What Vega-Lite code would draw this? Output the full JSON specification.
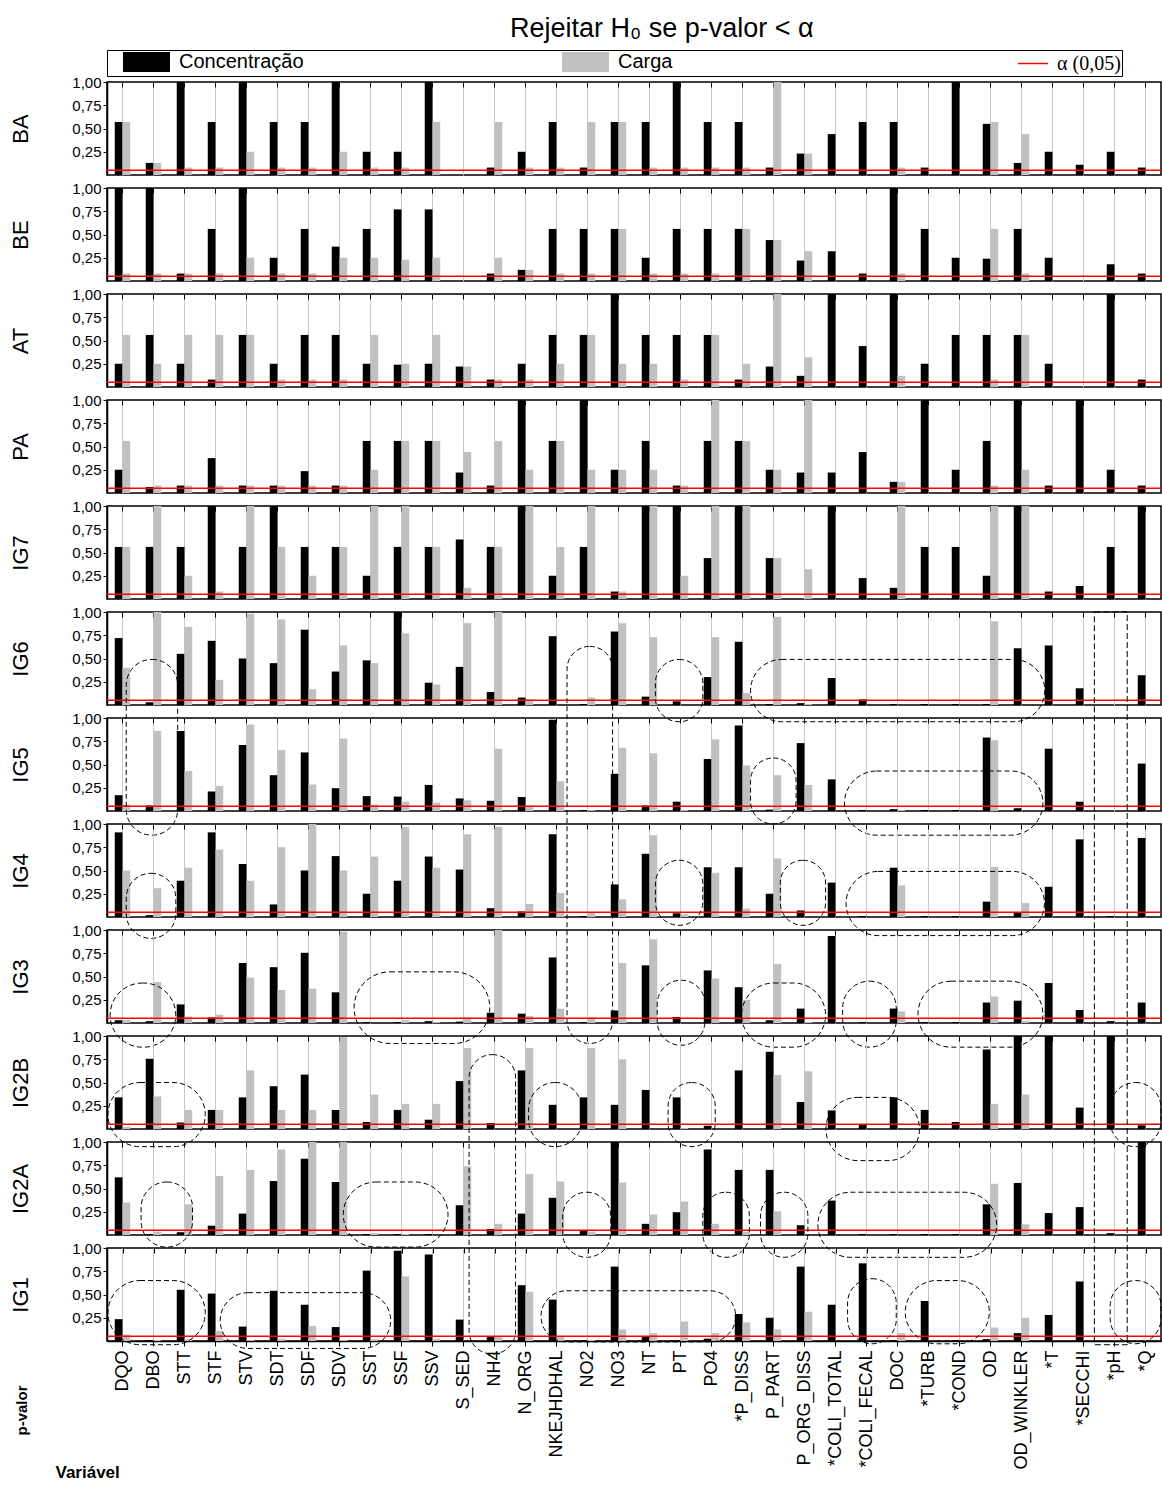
{
"$schema": "https://vega.github.io/schema/vega-lite/v6.json",
"padding": {"left": 9, "top": 14, "right": 0, "bottom": 2},
"background": "white",
"bounds": "flush",
"title": {"text": "Rejeitar H₀ se p-valor < α", "font": "Liberation Sans", "fontSize": 27, "fontWeight": "normal", "color": "#000", "anchor": "middle", "offset": 7, "dx": 76},
"data": {"values": [
{"painel":"BA","variavel":"DQO","Concentração":0.57,"Carga":0.57},
{"painel":"BA","variavel":"DBO","Concentração":0.13,"Carga":0.13},
{"painel":"BA","variavel":"STT","Concentração":1,"Carga":0.08},
{"painel":"BA","variavel":"STF","Concentração":0.57,"Carga":0.08},
{"painel":"BA","variavel":"STV","Concentração":1,"Carga":0.25},
{"painel":"BA","variavel":"SDT","Concentração":0.57,"Carga":0.08},
{"painel":"BA","variavel":"SDF","Concentração":0.57,"Carga":0.08},
{"painel":"BA","variavel":"SDV","Concentração":1,"Carga":0.25},
{"painel":"BA","variavel":"SST","Concentração":0.25,"Carga":0.08},
{"painel":"BA","variavel":"SSF","Concentração":0.25,"Carga":0.08},
{"painel":"BA","variavel":"SSV","Concentração":1,"Carga":0.57},
{"painel":"BA","variavel":"S_SED","Concentração":0,"Carga":0},
{"painel":"BA","variavel":"NH4","Concentração":0.08,"Carga":0.57},
{"painel":"BA","variavel":"N_ORG","Concentração":0.25,"Carga":0.08},
{"painel":"BA","variavel":"NKEJHDHAL","Concentração":0.57,"Carga":0.08},
{"painel":"BA","variavel":"NO2","Concentração":0.08,"Carga":0.57},
{"painel":"BA","variavel":"NO3","Concentração":0.57,"Carga":0.57},
{"painel":"BA","variavel":"NT","Concentração":0.57,"Carga":0.08},
{"painel":"BA","variavel":"PT","Concentração":1,"Carga":0.08},
{"painel":"BA","variavel":"PO4","Concentração":0.57,"Carga":0.08},
{"painel":"BA","variavel":"*P_DISS","Concentração":0.57,"Carga":0.08},
{"painel":"BA","variavel":"P_PART","Concentração":0.08,"Carga":1},
{"painel":"BA","variavel":"P_ORG_DISS","Concentração":0.23,"Carga":0.23},
{"painel":"BA","variavel":"*COLI_TOTAL","Concentração":0.44,"Carga":0},
{"painel":"BA","variavel":"*COLI_FECAL","Concentração":0.57,"Carga":0},
{"painel":"BA","variavel":"DOC","Concentração":0.57,"Carga":0.08},
{"painel":"BA","variavel":"*TURB","Concentração":0.08,"Carga":0},
{"painel":"BA","variavel":"*COND","Concentração":1,"Carga":0},
{"painel":"BA","variavel":"OD","Concentração":0.55,"Carga":0.57},
{"painel":"BA","variavel":"OD_WINKLER","Concentração":0.13,"Carga":0.44},
{"painel":"BA","variavel":"*T","Concentração":0.25,"Carga":0},
{"painel":"BA","variavel":"*SECCHI","Concentração":0.11,"Carga":0},
{"painel":"BA","variavel":"*pH","Concentração":0.25,"Carga":0},
{"painel":"BA","variavel":"*Q","Concentração":0.08,"Carga":0},
{"painel":"BE","variavel":"DQO","Concentração":1,"Carga":0.08},
{"painel":"BE","variavel":"DBO","Concentração":1,"Carga":0.08},
{"painel":"BE","variavel":"STT","Concentração":0.08,"Carga":0.08},
{"painel":"BE","variavel":"STF","Concentração":0.56,"Carga":0.08},
{"painel":"BE","variavel":"STV","Concentração":1,"Carga":0.25},
{"painel":"BE","variavel":"SDT","Concentração":0.25,"Carga":0.08},
{"painel":"BE","variavel":"SDF","Concentração":0.56,"Carga":0.08},
{"painel":"BE","variavel":"SDV","Concentração":0.37,"Carga":0.25},
{"painel":"BE","variavel":"SST","Concentração":0.56,"Carga":0.25},
{"painel":"BE","variavel":"SSF","Concentração":0.77,"Carga":0.23},
{"painel":"BE","variavel":"SSV","Concentração":0.77,"Carga":0.25},
{"painel":"BE","variavel":"S_SED","Concentração":0,"Carga":0},
{"painel":"BE","variavel":"NH4","Concentração":0.08,"Carga":0.25},
{"painel":"BE","variavel":"N_ORG","Concentração":0.12,"Carga":0.12},
{"painel":"BE","variavel":"NKEJHDHAL","Concentração":0.56,"Carga":0.08},
{"painel":"BE","variavel":"NO2","Concentração":0.56,"Carga":0.08},
{"painel":"BE","variavel":"NO3","Concentração":0.56,"Carga":0.56},
{"painel":"BE","variavel":"NT","Concentração":0.25,"Carga":0.08},
{"painel":"BE","variavel":"PT","Concentração":0.56,"Carga":0.08},
{"painel":"BE","variavel":"PO4","Concentração":0.56,"Carga":0.08},
{"painel":"BE","variavel":"*P_DISS","Concentração":0.56,"Carga":0.56},
{"painel":"BE","variavel":"P_PART","Concentração":0.44,"Carga":0.44},
{"painel":"BE","variavel":"P_ORG_DISS","Concentração":0.22,"Carga":0.32},
{"painel":"BE","variavel":"*COLI_TOTAL","Concentração":0.32,"Carga":0},
{"painel":"BE","variavel":"*COLI_FECAL","Concentração":0.08,"Carga":0},
{"painel":"BE","variavel":"DOC","Concentração":1,"Carga":0.08},
{"painel":"BE","variavel":"*TURB","Concentração":0.56,"Carga":0},
{"painel":"BE","variavel":"*COND","Concentração":0.25,"Carga":0},
{"painel":"BE","variavel":"OD","Concentração":0.24,"Carga":0.56},
{"painel":"BE","variavel":"OD_WINKLER","Concentração":0.56,"Carga":0.08},
{"painel":"BE","variavel":"*T","Concentração":0.25,"Carga":0},
{"painel":"BE","variavel":"*SECCHI","Concentração":0,"Carga":0},
{"painel":"BE","variavel":"*pH","Concentração":0.18,"Carga":0},
{"painel":"BE","variavel":"*Q","Concentração":0.08,"Carga":0},
{"painel":"AT","variavel":"DQO","Concentração":0.25,"Carga":0.56},
{"painel":"AT","variavel":"DBO","Concentração":0.56,"Carga":0.25},
{"painel":"AT","variavel":"STT","Concentração":0.25,"Carga":0.56},
{"painel":"AT","variavel":"STF","Concentração":0.08,"Carga":0.56},
{"painel":"AT","variavel":"STV","Concentração":0.56,"Carga":0.56},
{"painel":"AT","variavel":"SDT","Concentração":0.25,"Carga":0.08},
{"painel":"AT","variavel":"SDF","Concentração":0.56,"Carga":0.08},
{"painel":"AT","variavel":"SDV","Concentração":0.56,"Carga":0.08},
{"painel":"AT","variavel":"SST","Concentração":0.25,"Carga":0.56},
{"painel":"AT","variavel":"SSF","Concentração":0.24,"Carga":0.25},
{"painel":"AT","variavel":"SSV","Concentração":0.25,"Carga":0.56},
{"painel":"AT","variavel":"S_SED","Concentração":0.22,"Carga":0.22},
{"painel":"AT","variavel":"NH4","Concentração":0.08,"Carga":0.08},
{"painel":"AT","variavel":"N_ORG","Concentração":0.25,"Carga":0.08},
{"painel":"AT","variavel":"NKEJHDHAL","Concentração":0.56,"Carga":0.25},
{"painel":"AT","variavel":"NO2","Concentração":0.56,"Carga":0.56},
{"painel":"AT","variavel":"NO3","Concentração":1,"Carga":0.25},
{"painel":"AT","variavel":"NT","Concentração":0.56,"Carga":0.25},
{"painel":"AT","variavel":"PT","Concentração":0.56,"Carga":0.08},
{"painel":"AT","variavel":"PO4","Concentração":0.56,"Carga":0.56},
{"painel":"AT","variavel":"*P_DISS","Concentração":0.08,"Carga":0.25},
{"painel":"AT","variavel":"P_PART","Concentração":0.22,"Carga":1},
{"painel":"AT","variavel":"P_ORG_DISS","Concentração":0.12,"Carga":0.32},
{"painel":"AT","variavel":"*COLI_TOTAL","Concentração":1,"Carga":0},
{"painel":"AT","variavel":"*COLI_FECAL","Concentração":0.44,"Carga":0},
{"painel":"AT","variavel":"DOC","Concentração":1,"Carga":0.12},
{"painel":"AT","variavel":"*TURB","Concentração":0.25,"Carga":0},
{"painel":"AT","variavel":"*COND","Concentração":0.56,"Carga":0},
{"painel":"AT","variavel":"OD","Concentração":0.56,"Carga":0.08},
{"painel":"AT","variavel":"OD_WINKLER","Concentração":0.56,"Carga":0.56},
{"painel":"AT","variavel":"*T","Concentração":0.25,"Carga":0},
{"painel":"AT","variavel":"*SECCHI","Concentração":0,"Carga":0},
{"painel":"AT","variavel":"*pH","Concentração":1,"Carga":0},
{"painel":"AT","variavel":"*Q","Concentração":0.08,"Carga":0},
{"painel":"PA","variavel":"DQO","Concentração":0.25,"Carga":0.56},
{"painel":"PA","variavel":"DBO","Concentração":0.065,"Carga":0.08},
{"painel":"PA","variavel":"STT","Concentração":0.08,"Carga":0.08},
{"painel":"PA","variavel":"STF","Concentração":0.375,"Carga":0.08},
{"painel":"PA","variavel":"STV","Concentração":0.08,"Carga":0.08},
{"painel":"PA","variavel":"SDT","Concentração":0.08,"Carga":0.08},
{"painel":"PA","variavel":"SDF","Concentração":0.235,"Carga":0.08},
{"painel":"PA","variavel":"SDV","Concentração":0.08,"Carga":0.08},
{"painel":"PA","variavel":"SST","Concentração":0.56,"Carga":0.25},
{"painel":"PA","variavel":"SSF","Concentração":0.56,"Carga":0.56},
{"painel":"PA","variavel":"SSV","Concentração":0.56,"Carga":0.56},
{"painel":"PA","variavel":"S_SED","Concentração":0.22,"Carga":0.44},
{"painel":"PA","variavel":"NH4","Concentração":0.08,"Carga":0.56},
{"painel":"PA","variavel":"N_ORG","Concentração":1,"Carga":0.25},
{"painel":"PA","variavel":"NKEJHDHAL","Concentração":0.56,"Carga":0.56},
{"painel":"PA","variavel":"NO2","Concentração":1,"Carga":0.25},
{"painel":"PA","variavel":"NO3","Concentração":0.25,"Carga":0.25},
{"painel":"PA","variavel":"NT","Concentração":0.56,"Carga":0.25},
{"painel":"PA","variavel":"PT","Concentração":0.08,"Carga":0.08},
{"painel":"PA","variavel":"PO4","Concentração":0.56,"Carga":1},
{"painel":"PA","variavel":"*P_DISS","Concentração":0.56,"Carga":0.56},
{"painel":"PA","variavel":"P_PART","Concentração":0.25,"Carga":0.25},
{"painel":"PA","variavel":"P_ORG_DISS","Concentração":0.22,"Carga":1},
{"painel":"PA","variavel":"*COLI_TOTAL","Concentração":0.22,"Carga":0},
{"painel":"PA","variavel":"*COLI_FECAL","Concentração":0.44,"Carga":0},
{"painel":"PA","variavel":"DOC","Concentração":0.12,"Carga":0.12},
{"painel":"PA","variavel":"*TURB","Concentração":1,"Carga":0},
{"painel":"PA","variavel":"*COND","Concentração":0.25,"Carga":0},
{"painel":"PA","variavel":"OD","Concentração":0.56,"Carga":0.08},
{"painel":"PA","variavel":"OD_WINKLER","Concentração":1,"Carga":0.25},
{"painel":"PA","variavel":"*T","Concentração":0.08,"Carga":0},
{"painel":"PA","variavel":"*SECCHI","Concentração":1,"Carga":0},
{"painel":"PA","variavel":"*pH","Concentração":0.25,"Carga":0},
{"painel":"PA","variavel":"*Q","Concentração":0.08,"Carga":0},
{"painel":"IG7","variavel":"DQO","Concentração":0.56,"Carga":0.56},
{"painel":"IG7","variavel":"DBO","Concentração":0.56,"Carga":1},
{"painel":"IG7","variavel":"STT","Concentração":0.56,"Carga":0.25},
{"painel":"IG7","variavel":"STF","Concentração":1,"Carga":0.08},
{"painel":"IG7","variavel":"STV","Concentração":0.56,"Carga":1},
{"painel":"IG7","variavel":"SDT","Concentração":1,"Carga":0.56},
{"painel":"IG7","variavel":"SDF","Concentração":0.56,"Carga":0.25},
{"painel":"IG7","variavel":"SDV","Concentração":0.56,"Carga":0.56},
{"painel":"IG7","variavel":"SST","Concentração":0.25,"Carga":1},
{"painel":"IG7","variavel":"SSF","Concentração":0.56,"Carga":1},
{"painel":"IG7","variavel":"SSV","Concentração":0.56,"Carga":0.56},
{"painel":"IG7","variavel":"S_SED","Concentração":0.64,"Carga":0.12},
{"painel":"IG7","variavel":"NH4","Concentração":0.56,"Carga":0.56},
{"painel":"IG7","variavel":"N_ORG","Concentração":1,"Carga":1},
{"painel":"IG7","variavel":"NKEJHDHAL","Concentração":0.25,"Carga":0.56},
{"painel":"IG7","variavel":"NO2","Concentração":0.56,"Carga":1},
{"painel":"IG7","variavel":"NO3","Concentração":0.08,"Carga":0.08},
{"painel":"IG7","variavel":"NT","Concentração":1,"Carga":1},
{"painel":"IG7","variavel":"PT","Concentração":1,"Carga":0.25},
{"painel":"IG7","variavel":"PO4","Concentração":0.44,"Carga":1},
{"painel":"IG7","variavel":"*P_DISS","Concentração":1,"Carga":1},
{"painel":"IG7","variavel":"P_PART","Concentração":0.44,"Carga":0.44},
{"painel":"IG7","variavel":"P_ORG_DISS","Concentração":0,"Carga":0.32},
{"painel":"IG7","variavel":"*COLI_TOTAL","Concentração":1,"Carga":0},
{"painel":"IG7","variavel":"*COLI_FECAL","Concentração":0.225,"Carga":0},
{"painel":"IG7","variavel":"DOC","Concentração":0.12,"Carga":1},
{"painel":"IG7","variavel":"*TURB","Concentração":0.56,"Carga":0},
{"painel":"IG7","variavel":"*COND","Concentração":0.56,"Carga":0},
{"painel":"IG7","variavel":"OD","Concentração":0.25,"Carga":1},
{"painel":"IG7","variavel":"OD_WINKLER","Concentração":1,"Carga":1},
{"painel":"IG7","variavel":"*T","Concentração":0.08,"Carga":0},
{"painel":"IG7","variavel":"*SECCHI","Concentração":0.14,"Carga":0},
{"painel":"IG7","variavel":"*pH","Concentração":0.56,"Carga":0},
{"painel":"IG7","variavel":"*Q","Concentração":1,"Carga":0},
{"painel":"IG6","variavel":"DQO","Concentração":0.72,"Carga":0.40},
{"painel":"IG6","variavel":"DBO","Concentração":0.03,"Carga":1},
{"painel":"IG6","variavel":"STT","Concentração":0.55,"Carga":0.84},
{"painel":"IG6","variavel":"STF","Concentração":0.69,"Carga":0.27},
{"painel":"IG6","variavel":"STV","Concentração":0.50,"Carga":0.98},
{"painel":"IG6","variavel":"SDT","Concentração":0.45,"Carga":0.92},
{"painel":"IG6","variavel":"SDF","Concentração":0.81,"Carga":0.17},
{"painel":"IG6","variavel":"SDV","Concentração":0.36,"Carga":0.64},
{"painel":"IG6","variavel":"SST","Concentração":0.48,"Carga":0.45},
{"painel":"IG6","variavel":"SSF","Concentração":1,"Carga":0.77},
{"painel":"IG6","variavel":"SSV","Concentração":0.24,"Carga":0.22},
{"painel":"IG6","variavel":"S_SED","Concentração":0.41,"Carga":0.88},
{"painel":"IG6","variavel":"NH4","Concentração":0.14,"Carga":1},
{"painel":"IG6","variavel":"N_ORG","Concentração":0.08,"Carga":0.06},
{"painel":"IG6","variavel":"NKEJHDHAL","Concentração":0.74,"Carga":0},
{"painel":"IG6","variavel":"NO2","Concentração":0.01,"Carga":0.08},
{"painel":"IG6","variavel":"NO3","Concentração":0.79,"Carga":0.88},
{"painel":"IG6","variavel":"NT","Concentração":0.09,"Carga":0.73},
{"painel":"IG6","variavel":"PT","Concentração":0.04,"Carga":0},
{"painel":"IG6","variavel":"PO4","Concentração":0.30,"Carga":0.73},
{"painel":"IG6","variavel":"*P_DISS","Concentração":0.68,"Carga":0.13},
{"painel":"IG6","variavel":"P_PART","Concentração":0.01,"Carga":0.95},
{"painel":"IG6","variavel":"P_ORG_DISS","Concentração":0.02,"Carga":0.01},
{"painel":"IG6","variavel":"*COLI_TOTAL","Concentração":0.29,"Carga":0},
{"painel":"IG6","variavel":"*COLI_FECAL","Concentração":0.06,"Carga":0},
{"painel":"IG6","variavel":"DOC","Concentração":0.01,"Carga":0},
{"painel":"IG6","variavel":"*TURB","Concentração":0.01,"Carga":0},
{"painel":"IG6","variavel":"*COND","Concentração":0.01,"Carga":0},
{"painel":"IG6","variavel":"OD","Concentração":0.01,"Carga":0.90},
{"painel":"IG6","variavel":"OD_WINKLER","Concentração":0.61,"Carga":0},
{"painel":"IG6","variavel":"*T","Concentração":0.64,"Carga":0},
{"painel":"IG6","variavel":"*SECCHI","Concentração":0.18,"Carga":0},
{"painel":"IG6","variavel":"*pH","Concentração":0,"Carga":0},
{"painel":"IG6","variavel":"*Q","Concentração":0.32,"Carga":0},
{"painel":"IG5","variavel":"DQO","Concentração":0.17,"Carga":0.07},
{"painel":"IG5","variavel":"DBO","Concentração":0.06,"Carga":0.86},
{"painel":"IG5","variavel":"STT","Concentração":0.86,"Carga":0.43},
{"painel":"IG5","variavel":"STF","Concentração":0.21,"Carga":0.27},
{"painel":"IG5","variavel":"STV","Concentração":0.71,"Carga":0.93},
{"painel":"IG5","variavel":"SDT","Concentração":0.385,"Carga":0.655},
{"painel":"IG5","variavel":"SDF","Concentração":0.63,"Carga":0.285},
{"painel":"IG5","variavel":"SDV","Concentração":0.245,"Carga":0.78},
{"painel":"IG5","variavel":"SST","Concentração":0.16,"Carga":0.07},
{"painel":"IG5","variavel":"SSF","Concentração":0.155,"Carga":0.10},
{"painel":"IG5","variavel":"SSV","Concentração":0.28,"Carga":0.09},
{"painel":"IG5","variavel":"S_SED","Concentração":0.135,"Carga":0.115},
{"painel":"IG5","variavel":"NH4","Concentração":0.11,"Carga":0.67},
{"painel":"IG5","variavel":"N_ORG","Concentração":0.15,"Carga":0.06},
{"painel":"IG5","variavel":"NKEJHDHAL","Concentração":0.98,"Carga":0.32},
{"painel":"IG5","variavel":"NO2","Concentração":0.01,"Carga":0.01},
{"painel":"IG5","variavel":"NO3","Concentração":0.40,"Carga":0.68},
{"painel":"IG5","variavel":"NT","Concentração":0.06,"Carga":0.62},
{"painel":"IG5","variavel":"PT","Concentração":0.10,"Carga":0.01},
{"painel":"IG5","variavel":"PO4","Concentração":0.56,"Carga":0.77},
{"painel":"IG5","variavel":"*P_DISS","Concentração":0.92,"Carga":0.49},
{"painel":"IG5","variavel":"P_PART","Concentração":0.015,"Carga":0.385},
{"painel":"IG5","variavel":"P_ORG_DISS","Concentração":0.73,"Carga":0.28},
{"painel":"IG5","variavel":"*COLI_TOTAL","Concentração":0.34,"Carga":0},
{"painel":"IG5","variavel":"*COLI_FECAL","Concentração":0.01,"Carga":0},
{"painel":"IG5","variavel":"DOC","Concentração":0.02,"Carga":0.01},
{"painel":"IG5","variavel":"*TURB","Concentração":0.01,"Carga":0},
{"painel":"IG5","variavel":"*COND","Concentração":0.01,"Carga":0},
{"painel":"IG5","variavel":"OD","Concentração":0.79,"Carga":0.76},
{"painel":"IG5","variavel":"OD_WINKLER","Concentração":0.03,"Carga":0},
{"painel":"IG5","variavel":"*T","Concentração":0.67,"Carga":0},
{"painel":"IG5","variavel":"*SECCHI","Concentração":0.10,"Carga":0},
{"painel":"IG5","variavel":"*pH","Concentração":0,"Carga":0},
{"painel":"IG5","variavel":"*Q","Concentração":0.51,"Carga":0},
{"painel":"IG4","variavel":"DQO","Concentração":0.91,"Carga":0.50},
{"painel":"IG4","variavel":"DBO","Concentração":0.02,"Carga":0.31},
{"painel":"IG4","variavel":"STT","Concentração":0.39,"Carga":0.53},
{"painel":"IG4","variavel":"STF","Concentração":0.91,"Carga":0.725},
{"painel":"IG4","variavel":"STV","Concentração":0.57,"Carga":0.39},
{"painel":"IG4","variavel":"SDT","Concentração":0.135,"Carga":0.75},
{"painel":"IG4","variavel":"SDF","Concentração":0.50,"Carga":1},
{"painel":"IG4","variavel":"SDV","Concentração":0.655,"Carga":0.50},
{"painel":"IG4","variavel":"SST","Concentração":0.25,"Carga":0.65},
{"painel":"IG4","variavel":"SSF","Concentração":0.39,"Carga":0.97},
{"painel":"IG4","variavel":"SSV","Concentração":0.65,"Carga":0.53},
{"painel":"IG4","variavel":"S_SED","Concentração":0.51,"Carga":0.89},
{"painel":"IG4","variavel":"NH4","Concentração":0.095,"Carga":0.97},
{"painel":"IG4","variavel":"N_ORG","Concentração":0.06,"Carga":0.14},
{"painel":"IG4","variavel":"NKEJHDHAL","Concentração":0.89,"Carga":0.26},
{"painel":"IG4","variavel":"NO2","Concentração":0.01,"Carga":0.05},
{"painel":"IG4","variavel":"NO3","Concentração":0.35,"Carga":0.19},
{"painel":"IG4","variavel":"NT","Concentração":0.68,"Carga":0.88},
{"painel":"IG4","variavel":"PT","Concentração":0.04,"Carga":0.03},
{"painel":"IG4","variavel":"PO4","Concentração":0.535,"Carga":0.475},
{"painel":"IG4","variavel":"*P_DISS","Concentração":0.535,"Carga":0.09},
{"painel":"IG4","variavel":"P_PART","Concentração":0.25,"Carga":0.63},
{"painel":"IG4","variavel":"P_ORG_DISS","Concentração":0.07,"Carga":0},
{"painel":"IG4","variavel":"*COLI_TOTAL","Concentração":0.37,"Carga":0},
{"painel":"IG4","variavel":"*COLI_FECAL","Concentração":0.01,"Carga":0},
{"painel":"IG4","variavel":"DOC","Concentração":0.53,"Carga":0.34},
{"painel":"IG4","variavel":"*TURB","Concentração":0.01,"Carga":0},
{"painel":"IG4","variavel":"*COND","Concentração":0.01,"Carga":0},
{"painel":"IG4","variavel":"OD","Concentração":0.165,"Carga":0.54},
{"painel":"IG4","variavel":"OD_WINKLER","Concentração":0.05,"Carga":0.15},
{"painel":"IG4","variavel":"*T","Concentração":0.325,"Carga":0},
{"painel":"IG4","variavel":"*SECCHI","Concentração":0.835,"Carga":0},
{"painel":"IG4","variavel":"*pH","Concentração":0.01,"Carga":0},
{"painel":"IG4","variavel":"*Q","Concentração":0.85,"Carga":0},
{"painel":"IG3","variavel":"DQO","Concentração":0.03,"Carga":0.03},
{"painel":"IG3","variavel":"DBO","Concentração":0.02,"Carga":0.44},
{"painel":"IG3","variavel":"STT","Concentração":0.20,"Carga":0.07},
{"painel":"IG3","variavel":"STF","Concentração":0.06,"Carga":0.09},
{"painel":"IG3","variavel":"STV","Concentração":0.645,"Carga":0.49},
{"painel":"IG3","variavel":"SDT","Concentração":0.60,"Carga":0.355},
{"painel":"IG3","variavel":"SDF","Concentração":0.755,"Carga":0.37},
{"painel":"IG3","variavel":"SDV","Concentração":0.33,"Carga":0.98},
{"painel":"IG3","variavel":"SST","Concentração":0.01,"Carga":0},
{"painel":"IG3","variavel":"SSF","Concentração":0.01,"Carga":0.03},
{"painel":"IG3","variavel":"SSV","Concentração":0.02,"Carga":0.01},
{"painel":"IG3","variavel":"S_SED","Concentração":0.015,"Carga":0.06},
{"painel":"IG3","variavel":"NH4","Concentração":0.11,"Carga":1},
{"painel":"IG3","variavel":"N_ORG","Concentração":0.10,"Carga":0.075},
{"painel":"IG3","variavel":"NKEJHDHAL","Concentração":0.705,"Carga":0.155},
{"painel":"IG3","variavel":"NO2","Concentração":0.01,"Carga":0.06},
{"painel":"IG3","variavel":"NO3","Concentração":0.135,"Carga":0.645},
{"painel":"IG3","variavel":"NT","Concentração":0.62,"Carga":0.90},
{"painel":"IG3","variavel":"PT","Concentração":0.065,"Carga":0},
{"painel":"IG3","variavel":"PO4","Concentração":0.565,"Carga":0.48},
{"painel":"IG3","variavel":"*P_DISS","Concentração":0.385,"Carga":0.25},
{"painel":"IG3","variavel":"P_PART","Concentração":0.03,"Carga":0.635},
{"painel":"IG3","variavel":"P_ORG_DISS","Concentração":0.155,"Carga":0.01},
{"painel":"IG3","variavel":"*COLI_TOTAL","Concentração":0.935,"Carga":0},
{"painel":"IG3","variavel":"*COLI_FECAL","Concentração":0.01,"Carga":0},
{"painel":"IG3","variavel":"DOC","Concentração":0.155,"Carga":0.125},
{"painel":"IG3","variavel":"*TURB","Concentração":0.01,"Carga":0},
{"painel":"IG3","variavel":"*COND","Concentração":0.01,"Carga":0},
{"painel":"IG3","variavel":"OD","Concentração":0.22,"Carga":0.285},
{"painel":"IG3","variavel":"OD_WINKLER","Concentração":0.24,"Carga":0.025},
{"painel":"IG3","variavel":"*T","Concentração":0.43,"Carga":0},
{"painel":"IG3","variavel":"*SECCHI","Concentração":0.14,"Carga":0},
{"painel":"IG3","variavel":"*pH","Concentração":0.02,"Carga":0},
{"painel":"IG3","variavel":"*Q","Concentração":0.22,"Carga":0},
{"painel":"IG2B","variavel":"DQO","Concentração":0.34,"Carga":0.025},
{"painel":"IG2B","variavel":"DBO","Concentração":0.755,"Carga":0.35},
{"painel":"IG2B","variavel":"STT","Concentração":0.07,"Carga":0.205},
{"painel":"IG2B","variavel":"STF","Concentração":0.205,"Carga":0.205},
{"painel":"IG2B","variavel":"STV","Concentração":0.34,"Carga":0.63},
{"painel":"IG2B","variavel":"SDT","Concentração":0.46,"Carga":0.205},
{"painel":"IG2B","variavel":"SDF","Concentração":0.585,"Carga":0.205},
{"painel":"IG2B","variavel":"SDV","Concentração":0.205,"Carga":0.99},
{"painel":"IG2B","variavel":"SST","Concentração":0.075,"Carga":0.37},
{"painel":"IG2B","variavel":"SSF","Concentração":0.205,"Carga":0.27},
{"painel":"IG2B","variavel":"SSV","Concentração":0.10,"Carga":0.27},
{"painel":"IG2B","variavel":"S_SED","Concentração":0.515,"Carga":0.87},
{"painel":"IG2B","variavel":"NH4","Concentração":0.065,"Carga":0},
{"painel":"IG2B","variavel":"N_ORG","Concentração":0.63,"Carga":0.87},
{"painel":"IG2B","variavel":"NKEJHDHAL","Concentração":0.26,"Carga":0},
{"painel":"IG2B","variavel":"NO2","Concentração":0.34,"Carga":0.87},
{"painel":"IG2B","variavel":"NO3","Concentração":0.26,"Carga":0.75},
{"painel":"IG2B","variavel":"NT","Concentração":0.42,"Carga":0},
{"painel":"IG2B","variavel":"PT","Concentração":0.34,"Carga":0.01},
{"painel":"IG2B","variavel":"PO4","Concentração":0.035,"Carga":0},
{"painel":"IG2B","variavel":"*P_DISS","Concentração":0.63,"Carga":0},
{"painel":"IG2B","variavel":"P_PART","Concentração":0.83,"Carga":0.58},
{"painel":"IG2B","variavel":"P_ORG_DISS","Concentração":0.29,"Carga":0.62},
{"painel":"IG2B","variavel":"*COLI_TOTAL","Concentração":0.20,"Carga":0},
{"painel":"IG2B","variavel":"*COLI_FECAL","Concentração":0.05,"Carga":0},
{"painel":"IG2B","variavel":"DOC","Concentração":0.34,"Carga":0},
{"painel":"IG2B","variavel":"*TURB","Concentração":0.205,"Carga":0},
{"painel":"IG2B","variavel":"*COND","Concentração":0.075,"Carga":0},
{"painel":"IG2B","variavel":"OD","Concentração":0.855,"Carga":0.27},
{"painel":"IG2B","variavel":"OD_WINKLER","Concentração":1,"Carga":0.37},
{"painel":"IG2B","variavel":"*T","Concentração":1,"Carga":0},
{"painel":"IG2B","variavel":"*SECCHI","Concentração":0.23,"Carga":0},
{"painel":"IG2B","variavel":"*pH","Concentração":1,"Carga":0},
{"painel":"IG2B","variavel":"*Q","Concentração":0.04,"Carga":0},
{"painel":"IG2A","variavel":"DQO","Concentração":0.62,"Carga":0.35},
{"painel":"IG2A","variavel":"DBO","Concentração":0.01,"Carga":0.035},
{"painel":"IG2A","variavel":"STT","Concentração":0.03,"Carga":0.33},
{"painel":"IG2A","variavel":"STF","Concentração":0.10,"Carga":0.635},
{"painel":"IG2A","variavel":"STV","Concentração":0.23,"Carga":0.70},
{"painel":"IG2A","variavel":"SDT","Concentração":0.58,"Carga":0.92},
{"painel":"IG2A","variavel":"SDF","Concentração":0.82,"Carga":1},
{"painel":"IG2A","variavel":"SDV","Concentração":0.57,"Carga":1},
{"painel":"IG2A","variavel":"SST","Concentração":0.01,"Carga":0.02},
{"painel":"IG2A","variavel":"SSF","Concentração":0.01,"Carga":0.01},
{"painel":"IG2A","variavel":"SSV","Concentração":0.01,"Carga":0},
{"painel":"IG2A","variavel":"S_SED","Concentração":0.32,"Carga":0.74},
{"painel":"IG2A","variavel":"NH4","Concentração":0.065,"Carga":0.12},
{"painel":"IG2A","variavel":"N_ORG","Concentração":0.23,"Carga":0.655},
{"painel":"IG2A","variavel":"NKEJHDHAL","Concentração":0.40,"Carga":0.575},
{"painel":"IG2A","variavel":"NO2","Concentração":0.055,"Carga":0.035},
{"painel":"IG2A","variavel":"NO3","Concentração":1,"Carga":0.565},
{"painel":"IG2A","variavel":"NT","Concentração":0.12,"Carga":0.22},
{"painel":"IG2A","variavel":"PT","Concentração":0.245,"Carga":0.36},
{"painel":"IG2A","variavel":"PO4","Concentração":0.92,"Carga":0.12},
{"painel":"IG2A","variavel":"*P_DISS","Concentração":0.70,"Carga":0.035},
{"painel":"IG2A","variavel":"P_PART","Concentração":0.70,"Carga":0.255},
{"painel":"IG2A","variavel":"P_ORG_DISS","Concentração":0.105,"Carga":0},
{"painel":"IG2A","variavel":"*COLI_TOTAL","Concentração":0.37,"Carga":0},
{"painel":"IG2A","variavel":"*COLI_FECAL","Concentração":0.01,"Carga":0},
{"painel":"IG2A","variavel":"DOC","Concentração":0.01,"Carga":0},
{"painel":"IG2A","variavel":"*TURB","Concentração":0.01,"Carga":0},
{"painel":"IG2A","variavel":"*COND","Concentração":0.01,"Carga":0},
{"painel":"IG2A","variavel":"OD","Concentração":0.33,"Carga":0.55},
{"painel":"IG2A","variavel":"OD_WINKLER","Concentração":0.56,"Carga":0.115},
{"painel":"IG2A","variavel":"*T","Concentração":0.235,"Carga":0},
{"painel":"IG2A","variavel":"*SECCHI","Concentração":0.30,"Carga":0},
{"painel":"IG2A","variavel":"*pH","Concentração":0.02,"Carga":0},
{"painel":"IG2A","variavel":"*Q","Concentração":1,"Carga":0},
{"painel":"IG1","variavel":"DQO","Concentração":0.235,"Carga":0.07},
{"painel":"IG1","variavel":"DBO","Concentração":0.01,"Carga":0.01},
{"painel":"IG1","variavel":"STT","Concentração":0.55,"Carga":0.02},
{"painel":"IG1","variavel":"STF","Concentração":0.51,"Carga":0.11},
{"painel":"IG1","variavel":"STV","Concentração":0.155,"Carga":0.01},
{"painel":"IG1","variavel":"SDT","Concentração":0.54,"Carga":0.025},
{"painel":"IG1","variavel":"SDF","Concentração":0.39,"Carga":0.16},
{"painel":"IG1","variavel":"SDV","Concentração":0.15,"Carga":0.01},
{"painel":"IG1","variavel":"SST","Concentração":0.757,"Carga":0.02},
{"painel":"IG1","variavel":"SSF","Concentração":0.97,"Carga":0.695},
{"painel":"IG1","variavel":"SSV","Concentração":0.93,"Carga":0.025},
{"painel":"IG1","variavel":"S_SED","Concentração":0.23,"Carga":0},
{"painel":"IG1","variavel":"NH4","Concentração":0.045,"Carga":0.045},
{"painel":"IG1","variavel":"N_ORG","Concentração":0.60,"Carga":0.53},
{"painel":"IG1","variavel":"NKEJHDHAL","Concentração":0.445,"Carga":0.045},
{"painel":"IG1","variavel":"NO2","Concentração":0.01,"Carga":0.01},
{"painel":"IG1","variavel":"NO3","Concentração":0.80,"Carga":0.125},
{"painel":"IG1","variavel":"NT","Concentração":0.045,"Carga":0.085},
{"painel":"IG1","variavel":"PT","Concentração":0.01,"Carga":0.21},
{"painel":"IG1","variavel":"PO4","Concentração":0.025,"Carga":0.085},
{"painel":"IG1","variavel":"*P_DISS","Concentração":0.29,"Carga":0.20},
{"painel":"IG1","variavel":"P_PART","Concentração":0.25,"Carga":0.125},
{"painel":"IG1","variavel":"P_ORG_DISS","Concentração":0.80,"Carga":0.315},
{"painel":"IG1","variavel":"*COLI_TOTAL","Concentração":0.39,"Carga":0},
{"painel":"IG1","variavel":"*COLI_FECAL","Concentração":0.835,"Carga":0},
{"painel":"IG1","variavel":"DOC","Concentração":0.01,"Carga":0.085},
{"painel":"IG1","variavel":"*TURB","Concentração":0.43,"Carga":0},
{"painel":"IG1","variavel":"*COND","Concentração":0.01,"Carga":0},
{"painel":"IG1","variavel":"OD","Concentração":0.02,"Carga":0.145},
{"painel":"IG1","variavel":"OD_WINKLER","Concentração":0.085,"Carga":0.25},
{"painel":"IG1","variavel":"*T","Concentração":0.28,"Carga":0},
{"painel":"IG1","variavel":"*SECCHI","Concentração":0.64,"Carga":0},
{"painel":"IG1","variavel":"*pH","Concentração":0,"Carga":0},
{"painel":"IG1","variavel":"*Q","Concentração":0,"Carga":0},
{"tipo":"elipse","painel":"IG5","x1":0.62,"x2":2.28,"y1":-0.26,"y2":1.63},
{"tipo":"elipse","painel":"IG4","x1":14.84,"x2":16.31,"y1":-1.36,"y2":2.91},
{"tipo":"elipse","painel":"IG6","x1":17.69,"x2":19.22,"y1":-0.18,"y2":0.49},
{"tipo":"elipse","painel":"IG6","x1":20.76,"x2":30.25,"y1":-0.18,"y2":0.49},
{"tipo":"elipse","painel":"IG5","x1":20.76,"x2":22.23,"y1":-0.14,"y2":0.57},
{"tipo":"elipse","painel":"IG5","x1":23.79,"x2":30.19,"y1":-0.26,"y2":0.43},
{"tipo":"elipse","painel":"IG4","x1":0.62,"x2":2.22,"y1":-0.23,"y2":0.47},
{"tipo":"elipse","painel":"IG4","x1":17.69,"x2":19.22,"y1":-0.09,"y2":0.61},
{"tipo":"elipse","painel":"IG4","x1":21.72,"x2":23.18,"y1":-0.09,"y2":0.61},
{"tipo":"elipse","painel":"IG4","x1":23.84,"x2":30.24,"y1":-0.2,"y2":0.49},
{"tipo":"elipse","painel":"IG3","x1":0.1,"x2":2.22,"y1":-0.26,"y2":0.43},
{"tipo":"elipse","painel":"IG3","x1":7.97,"x2":12.35,"y1":-0.22,"y2":0.55},
{"tipo":"elipse","painel":"IG3","x1":17.75,"x2":19.29,"y1":-0.24,"y2":0.46},
{"tipo":"elipse","painel":"IG3","x1":20.47,"x2":23.18,"y1":-0.26,"y2":0.43},
{"tipo":"elipse","painel":"IG3","x1":23.73,"x2":25.46,"y1":-0.26,"y2":0.45},
{"tipo":"elipse","painel":"IG3","x1":26.16,"x2":30.19,"y1":-0.26,"y2":0.45},
{"tipo":"elipse","painel":"IG2B","x1":0.03,"x2":3.17,"y1":-0.19,"y2":0.5},
{"tipo":"elipse","painel":"IG2A","x1":11.68,"x2":13.18,"y1":-1.28,"y2":1.94},
{"tipo":"elipse","painel":"IG2B","x1":13.6,"x2":15.32,"y1":-0.19,"y2":0.5},
{"tipo":"elipse","painel":"IG2B","x1":18.1,"x2":19.62,"y1":-0.19,"y2":0.5},
{"tipo":"elipse","painel":"IG2B","x1":23.19,"x2":26.21,"y1":-0.34,"y2":0.34},
{"tipo":"elipse","painel":"IG2B","x1":32.36,"x2":34,"y1":-0.19,"y2":0.5},
{"tipo":"elipse","painel":"IG2A","x1":1.1,"x2":2.76,"y1":-0.13,"y2":0.57},
{"tipo":"elipse","painel":"IG2A","x1":7.62,"x2":11.0,"y1":-0.13,"y2":0.57},
{"tipo":"elipse","painel":"IG2A","x1":14.7,"x2":16.25,"y1":-0.24,"y2":0.46},
{"tipo":"elipse","painel":"IG2A","x1":19.22,"x2":20.72,"y1":-0.24,"y2":0.46},
{"tipo":"elipse","painel":"IG2A","x1":21.08,"x2":22.61,"y1":-0.24,"y2":0.46},
{"tipo":"elipse","painel":"IG2A","x1":22.93,"x2":28.7,"y1":-0.24,"y2":0.46},
{"tipo":"elipse","painel":"IG1","x1":0.03,"x2":3.17,"y1":-0.04,"y2":0.65},
{"tipo":"elipse","painel":"IG1","x1":3.65,"x2":9.15,"y1":-0.08,"y2":0.52},
{"tipo":"elipse","painel":"IG1","x1":14.0,"x2":20.28,"y1":-0.01,"y2":0.54},
{"tipo":"elipse","painel":"IG1","x1":23.89,"x2":25.46,"y1":-0.03,"y2":0.67},
{"tipo":"elipse","painel":"IG1","x1":25.75,"x2":28.46,"y1":-0.03,"y2":0.65},
{"tipo":"elipse","painel":"IG1","x1":32.36,"x2":34,"y1":-0.03,"y2":0.65},
{"tipo":"caixa","painel":"IG1","x1":31.85,"x2":32.91,"y1":-0.04,"y2":7.84}
]},
"spacing": 13,
"vconcat": [
{"width":1054,"height":93,"transform":[{"filter":"datum.painel === 'BA'"}],"resolve":{"axis":{"y":"independent"}},"layer":[
 {"transform":[{"filter":"datum.tipo == null"},{"fold":["Concentração","Carga"],"as":["serie","pvalor"]}],"mark":"bar","encoding":{
  "x":{"field":"variavel","type":"nominal","sort":["DQO","DBO","STT","STF","STV","SDT","SDF","SDV","SST","SSF","SSV","S_SED","NH4","N_ORG","NKEJHDHAL","NO2","NO3","NT","PT","PO4","*P_DISS","P_PART","P_ORG_DISS","*COLI_TOTAL","*COLI_FECAL","DOC","*TURB","*COND","OD","OD_WINKLER","*T","*SECCHI","*pH","*Q"],"scale":{"paddingInner":0,"paddingOuter":0},"axis":{"orient":"top","labels":false,"ticks":true,"tickSize":-5,"domain":false,"title":null,"grid":true,"gridColor":"#c8c8c8","bandPosition":0.5}},
  "xOffset":{"field":"serie","type":"nominal","sort":["Concentração","Carga"],"scale":{"paddingInner":0,"paddingOuter":1.05}},
  "y":{"field":"pvalor","type":"quantitative","scale":{"domain":[0,1],"nice":false},"axis":{"orient":"left","title":"BA","values":[0.25,0.5,0.75,1],"labelExpr":"replace(format(datum.value, '.2f'), '.', ',')"}},
  "color":{"field":"serie","type":"nominal","scale":{"domain":["Concentração","Carga","α (0,05)"],"range":["#000000","#c0c0c0","#ff0000"]},
   "legend":{"orient":"top","direction":"horizontal","title":" ","titleOrient":"left","titlePadding":14,"titleFontSize":10,
    "columns":3,"gridAlign":"all","columnPadding":255,"strokeColor":"#000","padding":1,"offset":-2,
    "labelFont":"Liberation Sans","labelFontSize":20,"labelColor":"#000","labelOffset":35,"labelLimit":0,
    "labelExpr":"datum.label === 'α (0,05)' ? 'α (0,05)      ' : datum.label",
    "symbolType":"M-1,-1H3.7V1H-1Z","symbolSize":400,"symbolStrokeWidth":0,"symbolOpacity":1,
    "encode":{"symbols":{"update":{"shape":{"signal":"datum.value === 'α (0,05)' ? 'M0.7,0H3.7' : 'M-1,-1H3.7V1H-1Z'"},"stroke":{"signal":"datum.value === 'α (0,05)' ? '#ff0000' : 'transparent'"},"strokeWidth":{"value":1.5}}},
     "labels":{"update":{"font":{"signal":"datum.value === 'α (0,05)' ? 'Liberation Serif' : 'Liberation Sans'"}}}}}}}},
 {"transform":[{"filter":"datum.tipo == null && datum.variavel === 'DQO'"}],"mark":{"type":"rule","color":"#ff0000","strokeWidth":1.5},"encoding":{"y":{"datum":0.05,"type":"quantitative","axis":{"orient":"left","title":null,"labels":false,"ticks":false,"domain":false}}}}
]},
{"width":1054,"height":93,"transform":[{"filter":"datum.painel === 'BE'"}],"resolve":{"axis":{"y":"independent"}},"layer":[
 {"transform":[{"filter":"datum.tipo == null"},{"fold":["Concentração","Carga"],"as":["serie","pvalor"]}],"mark":"bar","encoding":{
  "x":{"field":"variavel","type":"nominal","sort":["DQO","DBO","STT","STF","STV","SDT","SDF","SDV","SST","SSF","SSV","S_SED","NH4","N_ORG","NKEJHDHAL","NO2","NO3","NT","PT","PO4","*P_DISS","P_PART","P_ORG_DISS","*COLI_TOTAL","*COLI_FECAL","DOC","*TURB","*COND","OD","OD_WINKLER","*T","*SECCHI","*pH","*Q"],"scale":{"paddingInner":0,"paddingOuter":0},"axis":{"orient":"top","labels":false,"ticks":true,"tickSize":-5,"domain":false,"title":null,"grid":true,"gridColor":"#c8c8c8","bandPosition":0.5}},
  "xOffset":{"field":"serie","type":"nominal","sort":["Concentração","Carga"],"scale":{"paddingInner":0,"paddingOuter":1.05}},
  "y":{"field":"pvalor","type":"quantitative","scale":{"domain":[0,1],"nice":false},"axis":{"orient":"left","title":"BE","values":[0.25,0.5,0.75,1],"labelExpr":"replace(format(datum.value, '.2f'), '.', ',')"}},
  "color":{"field":"serie","type":"nominal","scale":{"domain":["Concentração","Carga","α (0,05)"],"range":["#000000","#c0c0c0","#ff0000"]},"legend":null}}},
 {"transform":[{"filter":"datum.tipo == null && datum.variavel === 'DQO'"}],"mark":{"type":"rule","color":"#ff0000","strokeWidth":1.5},"encoding":{"y":{"datum":0.05,"type":"quantitative","axis":{"orient":"left","title":null,"labels":false,"ticks":false,"domain":false}}}}
]},
{"width":1054,"height":93,"transform":[{"filter":"datum.painel === 'AT'"}],"resolve":{"axis":{"y":"independent"}},"layer":[
 {"transform":[{"filter":"datum.tipo == null"},{"fold":["Concentração","Carga"],"as":["serie","pvalor"]}],"mark":"bar","encoding":{
  "x":{"field":"variavel","type":"nominal","sort":["DQO","DBO","STT","STF","STV","SDT","SDF","SDV","SST","SSF","SSV","S_SED","NH4","N_ORG","NKEJHDHAL","NO2","NO3","NT","PT","PO4","*P_DISS","P_PART","P_ORG_DISS","*COLI_TOTAL","*COLI_FECAL","DOC","*TURB","*COND","OD","OD_WINKLER","*T","*SECCHI","*pH","*Q"],"scale":{"paddingInner":0,"paddingOuter":0},"axis":{"orient":"top","labels":false,"ticks":true,"tickSize":-5,"domain":false,"title":null,"grid":true,"gridColor":"#c8c8c8","bandPosition":0.5}},
  "xOffset":{"field":"serie","type":"nominal","sort":["Concentração","Carga"],"scale":{"paddingInner":0,"paddingOuter":1.05}},
  "y":{"field":"pvalor","type":"quantitative","scale":{"domain":[0,1],"nice":false},"axis":{"orient":"left","title":"AT","values":[0.25,0.5,0.75,1],"labelExpr":"replace(format(datum.value, '.2f'), '.', ',')"}},
  "color":{"field":"serie","type":"nominal","scale":{"domain":["Concentração","Carga","α (0,05)"],"range":["#000000","#c0c0c0","#ff0000"]},"legend":null}}},
 {"transform":[{"filter":"datum.tipo == null && datum.variavel === 'DQO'"}],"mark":{"type":"rule","color":"#ff0000","strokeWidth":1.5},"encoding":{"y":{"datum":0.05,"type":"quantitative","axis":{"orient":"left","title":null,"labels":false,"ticks":false,"domain":false}}}}
]},
{"width":1054,"height":93,"transform":[{"filter":"datum.painel === 'PA'"}],"resolve":{"axis":{"y":"independent"}},"layer":[
 {"transform":[{"filter":"datum.tipo == null"},{"fold":["Concentração","Carga"],"as":["serie","pvalor"]}],"mark":"bar","encoding":{
  "x":{"field":"variavel","type":"nominal","sort":["DQO","DBO","STT","STF","STV","SDT","SDF","SDV","SST","SSF","SSV","S_SED","NH4","N_ORG","NKEJHDHAL","NO2","NO3","NT","PT","PO4","*P_DISS","P_PART","P_ORG_DISS","*COLI_TOTAL","*COLI_FECAL","DOC","*TURB","*COND","OD","OD_WINKLER","*T","*SECCHI","*pH","*Q"],"scale":{"paddingInner":0,"paddingOuter":0},"axis":{"orient":"top","labels":false,"ticks":true,"tickSize":-5,"domain":false,"title":null,"grid":true,"gridColor":"#c8c8c8","bandPosition":0.5}},
  "xOffset":{"field":"serie","type":"nominal","sort":["Concentração","Carga"],"scale":{"paddingInner":0,"paddingOuter":1.05}},
  "y":{"field":"pvalor","type":"quantitative","scale":{"domain":[0,1],"nice":false},"axis":{"orient":"left","title":"PA","values":[0.25,0.5,0.75,1],"labelExpr":"replace(format(datum.value, '.2f'), '.', ',')"}},
  "color":{"field":"serie","type":"nominal","scale":{"domain":["Concentração","Carga","α (0,05)"],"range":["#000000","#c0c0c0","#ff0000"]},"legend":null}}},
 {"transform":[{"filter":"datum.tipo == null && datum.variavel === 'DQO'"}],"mark":{"type":"rule","color":"#ff0000","strokeWidth":1.5},"encoding":{"y":{"datum":0.05,"type":"quantitative","axis":{"orient":"left","title":null,"labels":false,"ticks":false,"domain":false}}}}
]},
{"width":1054,"height":93,"transform":[{"filter":"datum.painel === 'IG7'"}],"resolve":{"axis":{"y":"independent"}},"layer":[
 {"transform":[{"filter":"datum.tipo == null"},{"fold":["Concentração","Carga"],"as":["serie","pvalor"]}],"mark":"bar","encoding":{
  "x":{"field":"variavel","type":"nominal","sort":["DQO","DBO","STT","STF","STV","SDT","SDF","SDV","SST","SSF","SSV","S_SED","NH4","N_ORG","NKEJHDHAL","NO2","NO3","NT","PT","PO4","*P_DISS","P_PART","P_ORG_DISS","*COLI_TOTAL","*COLI_FECAL","DOC","*TURB","*COND","OD","OD_WINKLER","*T","*SECCHI","*pH","*Q"],"scale":{"paddingInner":0,"paddingOuter":0},"axis":{"orient":"top","labels":false,"ticks":true,"tickSize":-5,"domain":false,"title":null,"grid":true,"gridColor":"#c8c8c8","bandPosition":0.5}},
  "xOffset":{"field":"serie","type":"nominal","sort":["Concentração","Carga"],"scale":{"paddingInner":0,"paddingOuter":1.05}},
  "y":{"field":"pvalor","type":"quantitative","scale":{"domain":[0,1],"nice":false},"axis":{"orient":"left","title":"IG7","values":[0.25,0.5,0.75,1],"labelExpr":"replace(format(datum.value, '.2f'), '.', ',')"}},
  "color":{"field":"serie","type":"nominal","scale":{"domain":["Concentração","Carga","α (0,05)"],"range":["#000000","#c0c0c0","#ff0000"]},"legend":null}}},
 {"transform":[{"filter":"datum.tipo == null && datum.variavel === 'DQO'"}],"mark":{"type":"rule","color":"#ff0000","strokeWidth":1.5},"encoding":{"y":{"datum":0.05,"type":"quantitative","axis":{"orient":"left","title":null,"labels":false,"ticks":false,"domain":false}}}}
]},
{"width":1054,"height":93,"transform":[{"filter":"datum.painel === 'IG6'"}],"resolve":{"scale":{"x":"independent"},"axis":{"y":"independent"}},"layer":[
 {"transform":[{"filter":"datum.tipo == null"},{"fold":["Concentração","Carga"],"as":["serie","pvalor"]}],"mark":"bar","encoding":{
  "x":{"field":"variavel","type":"nominal","sort":["DQO","DBO","STT","STF","STV","SDT","SDF","SDV","SST","SSF","SSV","S_SED","NH4","N_ORG","NKEJHDHAL","NO2","NO3","NT","PT","PO4","*P_DISS","P_PART","P_ORG_DISS","*COLI_TOTAL","*COLI_FECAL","DOC","*TURB","*COND","OD","OD_WINKLER","*T","*SECCHI","*pH","*Q"],"scale":{"paddingInner":0,"paddingOuter":0},"axis":{"orient":"top","labels":false,"ticks":true,"tickSize":-5,"domain":false,"title":null,"grid":true,"gridColor":"#c8c8c8","bandPosition":0.5}},
  "xOffset":{"field":"serie","type":"nominal","sort":["Concentração","Carga"],"scale":{"paddingInner":0,"paddingOuter":1.05}},
  "y":{"field":"pvalor","type":"quantitative","scale":{"domain":[0,1],"nice":false},"axis":{"orient":"left","title":"IG6","values":[0.25,0.5,0.75,1],"labelExpr":"replace(format(datum.value, '.2f'), '.', ',')"}},
  "color":{"field":"serie","type":"nominal","scale":{"domain":["Concentração","Carga","α (0,05)"],"range":["#000000","#c0c0c0","#ff0000"]},"legend":null}}},
 {"transform":[{"filter":"datum.tipo == null && datum.variavel === 'DQO'"}],"mark":{"type":"rule","color":"#ff0000","strokeWidth":1.5},"encoding":{"y":{"datum":0.05,"type":"quantitative","axis":{"orient":"left","title":null,"labels":false,"ticks":false,"domain":false}}}},
 {"transform":[{"filter":"datum.tipo === 'elipse'"}],"mark":{"type":"rect","filled":false,"stroke":"#000","strokeWidth":1,"strokeDash":[5,3],"cornerRadius":400},"encoding":{
  "x":{"field":"x1","type":"quantitative","scale":{"domain":[0,34],"nice":false,"zero":false},"axis":null},"x2":{"field":"x2"},
  "y":{"field":"y1","type":"quantitative","axis":{"orient":"left","title":null,"labels":false,"ticks":false,"domain":false}},"y2":{"field":"y2"}}}
]},
{"width":1054,"height":93,"transform":[{"filter":"datum.painel === 'IG5'"}],"resolve":{"scale":{"x":"independent"},"axis":{"y":"independent"}},"layer":[
 {"transform":[{"filter":"datum.tipo == null"},{"fold":["Concentração","Carga"],"as":["serie","pvalor"]}],"mark":"bar","encoding":{
  "x":{"field":"variavel","type":"nominal","sort":["DQO","DBO","STT","STF","STV","SDT","SDF","SDV","SST","SSF","SSV","S_SED","NH4","N_ORG","NKEJHDHAL","NO2","NO3","NT","PT","PO4","*P_DISS","P_PART","P_ORG_DISS","*COLI_TOTAL","*COLI_FECAL","DOC","*TURB","*COND","OD","OD_WINKLER","*T","*SECCHI","*pH","*Q"],"scale":{"paddingInner":0,"paddingOuter":0},"axis":{"orient":"top","labels":false,"ticks":true,"tickSize":-5,"domain":false,"title":null,"grid":true,"gridColor":"#c8c8c8","bandPosition":0.5}},
  "xOffset":{"field":"serie","type":"nominal","sort":["Concentração","Carga"],"scale":{"paddingInner":0,"paddingOuter":1.05}},
  "y":{"field":"pvalor","type":"quantitative","scale":{"domain":[0,1],"nice":false},"axis":{"orient":"left","title":"IG5","values":[0.25,0.5,0.75,1],"labelExpr":"replace(format(datum.value, '.2f'), '.', ',')"}},
  "color":{"field":"serie","type":"nominal","scale":{"domain":["Concentração","Carga","α (0,05)"],"range":["#000000","#c0c0c0","#ff0000"]},"legend":null}}},
 {"transform":[{"filter":"datum.tipo == null && datum.variavel === 'DQO'"}],"mark":{"type":"rule","color":"#ff0000","strokeWidth":1.5},"encoding":{"y":{"datum":0.05,"type":"quantitative","axis":{"orient":"left","title":null,"labels":false,"ticks":false,"domain":false}}}},
 {"transform":[{"filter":"datum.tipo === 'elipse'"}],"mark":{"type":"rect","filled":false,"stroke":"#000","strokeWidth":1,"strokeDash":[5,3],"cornerRadius":400},"encoding":{
  "x":{"field":"x1","type":"quantitative","scale":{"domain":[0,34],"nice":false,"zero":false},"axis":null},"x2":{"field":"x2"},
  "y":{"field":"y1","type":"quantitative","axis":{"orient":"left","title":null,"labels":false,"ticks":false,"domain":false}},"y2":{"field":"y2"}}}
]},
{"width":1054,"height":93,"transform":[{"filter":"datum.painel === 'IG4'"}],"resolve":{"scale":{"x":"independent"},"axis":{"y":"independent"}},"layer":[
 {"transform":[{"filter":"datum.tipo == null"},{"fold":["Concentração","Carga"],"as":["serie","pvalor"]}],"mark":"bar","encoding":{
  "x":{"field":"variavel","type":"nominal","sort":["DQO","DBO","STT","STF","STV","SDT","SDF","SDV","SST","SSF","SSV","S_SED","NH4","N_ORG","NKEJHDHAL","NO2","NO3","NT","PT","PO4","*P_DISS","P_PART","P_ORG_DISS","*COLI_TOTAL","*COLI_FECAL","DOC","*TURB","*COND","OD","OD_WINKLER","*T","*SECCHI","*pH","*Q"],"scale":{"paddingInner":0,"paddingOuter":0},"axis":{"orient":"top","labels":false,"ticks":true,"tickSize":-5,"domain":false,"title":null,"grid":true,"gridColor":"#c8c8c8","bandPosition":0.5}},
  "xOffset":{"field":"serie","type":"nominal","sort":["Concentração","Carga"],"scale":{"paddingInner":0,"paddingOuter":1.05}},
  "y":{"field":"pvalor","type":"quantitative","scale":{"domain":[0,1],"nice":false},"axis":{"orient":"left","title":"IG4","values":[0.25,0.5,0.75,1],"labelExpr":"replace(format(datum.value, '.2f'), '.', ',')"}},
  "color":{"field":"serie","type":"nominal","scale":{"domain":["Concentração","Carga","α (0,05)"],"range":["#000000","#c0c0c0","#ff0000"]},"legend":null}}},
 {"transform":[{"filter":"datum.tipo == null && datum.variavel === 'DQO'"}],"mark":{"type":"rule","color":"#ff0000","strokeWidth":1.5},"encoding":{"y":{"datum":0.05,"type":"quantitative","axis":{"orient":"left","title":null,"labels":false,"ticks":false,"domain":false}}}},
 {"transform":[{"filter":"datum.tipo === 'elipse'"}],"mark":{"type":"rect","filled":false,"stroke":"#000","strokeWidth":1,"strokeDash":[5,3],"cornerRadius":400},"encoding":{
  "x":{"field":"x1","type":"quantitative","scale":{"domain":[0,34],"nice":false,"zero":false},"axis":null},"x2":{"field":"x2"},
  "y":{"field":"y1","type":"quantitative","axis":{"orient":"left","title":null,"labels":false,"ticks":false,"domain":false}},"y2":{"field":"y2"}}}
]},
{"width":1054,"height":93,"transform":[{"filter":"datum.painel === 'IG3'"}],"resolve":{"scale":{"x":"independent"},"axis":{"y":"independent"}},"layer":[
 {"transform":[{"filter":"datum.tipo == null"},{"fold":["Concentração","Carga"],"as":["serie","pvalor"]}],"mark":"bar","encoding":{
  "x":{"field":"variavel","type":"nominal","sort":["DQO","DBO","STT","STF","STV","SDT","SDF","SDV","SST","SSF","SSV","S_SED","NH4","N_ORG","NKEJHDHAL","NO2","NO3","NT","PT","PO4","*P_DISS","P_PART","P_ORG_DISS","*COLI_TOTAL","*COLI_FECAL","DOC","*TURB","*COND","OD","OD_WINKLER","*T","*SECCHI","*pH","*Q"],"scale":{"paddingInner":0,"paddingOuter":0},"axis":{"orient":"top","labels":false,"ticks":true,"tickSize":-5,"domain":false,"title":null,"grid":true,"gridColor":"#c8c8c8","bandPosition":0.5}},
  "xOffset":{"field":"serie","type":"nominal","sort":["Concentração","Carga"],"scale":{"paddingInner":0,"paddingOuter":1.05}},
  "y":{"field":"pvalor","type":"quantitative","scale":{"domain":[0,1],"nice":false},"axis":{"orient":"left","title":"IG3","values":[0.25,0.5,0.75,1],"labelExpr":"replace(format(datum.value, '.2f'), '.', ',')"}},
  "color":{"field":"serie","type":"nominal","scale":{"domain":["Concentração","Carga","α (0,05)"],"range":["#000000","#c0c0c0","#ff0000"]},"legend":null}}},
 {"transform":[{"filter":"datum.tipo == null && datum.variavel === 'DQO'"}],"mark":{"type":"rule","color":"#ff0000","strokeWidth":1.5},"encoding":{"y":{"datum":0.05,"type":"quantitative","axis":{"orient":"left","title":null,"labels":false,"ticks":false,"domain":false}}}},
 {"transform":[{"filter":"datum.tipo === 'elipse'"}],"mark":{"type":"rect","filled":false,"stroke":"#000","strokeWidth":1,"strokeDash":[5,3],"cornerRadius":400},"encoding":{
  "x":{"field":"x1","type":"quantitative","scale":{"domain":[0,34],"nice":false,"zero":false},"axis":null},"x2":{"field":"x2"},
  "y":{"field":"y1","type":"quantitative","axis":{"orient":"left","title":null,"labels":false,"ticks":false,"domain":false}},"y2":{"field":"y2"}}}
]},
{"width":1054,"height":93,"transform":[{"filter":"datum.painel === 'IG2B'"}],"resolve":{"scale":{"x":"independent"},"axis":{"y":"independent"}},"layer":[
 {"transform":[{"filter":"datum.tipo == null"},{"fold":["Concentração","Carga"],"as":["serie","pvalor"]}],"mark":"bar","encoding":{
  "x":{"field":"variavel","type":"nominal","sort":["DQO","DBO","STT","STF","STV","SDT","SDF","SDV","SST","SSF","SSV","S_SED","NH4","N_ORG","NKEJHDHAL","NO2","NO3","NT","PT","PO4","*P_DISS","P_PART","P_ORG_DISS","*COLI_TOTAL","*COLI_FECAL","DOC","*TURB","*COND","OD","OD_WINKLER","*T","*SECCHI","*pH","*Q"],"scale":{"paddingInner":0,"paddingOuter":0},"axis":{"orient":"top","labels":false,"ticks":true,"tickSize":-5,"domain":false,"title":null,"grid":true,"gridColor":"#c8c8c8","bandPosition":0.5}},
  "xOffset":{"field":"serie","type":"nominal","sort":["Concentração","Carga"],"scale":{"paddingInner":0,"paddingOuter":1.05}},
  "y":{"field":"pvalor","type":"quantitative","scale":{"domain":[0,1],"nice":false},"axis":{"orient":"left","title":"IG2B","values":[0.25,0.5,0.75,1],"labelExpr":"replace(format(datum.value, '.2f'), '.', ',')"}},
  "color":{"field":"serie","type":"nominal","scale":{"domain":["Concentração","Carga","α (0,05)"],"range":["#000000","#c0c0c0","#ff0000"]},"legend":null}}},
 {"transform":[{"filter":"datum.tipo == null && datum.variavel === 'DQO'"}],"mark":{"type":"rule","color":"#ff0000","strokeWidth":1.5},"encoding":{"y":{"datum":0.05,"type":"quantitative","axis":{"orient":"left","title":null,"labels":false,"ticks":false,"domain":false}}}},
 {"transform":[{"filter":"datum.tipo === 'elipse'"}],"mark":{"type":"rect","filled":false,"stroke":"#000","strokeWidth":1,"strokeDash":[5,3],"cornerRadius":400},"encoding":{
  "x":{"field":"x1","type":"quantitative","scale":{"domain":[0,34],"nice":false,"zero":false},"axis":null},"x2":{"field":"x2"},
  "y":{"field":"y1","type":"quantitative","axis":{"orient":"left","title":null,"labels":false,"ticks":false,"domain":false}},"y2":{"field":"y2"}}}
]},
{"width":1054,"height":93,"transform":[{"filter":"datum.painel === 'IG2A'"}],"resolve":{"scale":{"x":"independent"},"axis":{"y":"independent"}},"layer":[
 {"transform":[{"filter":"datum.tipo == null"},{"fold":["Concentração","Carga"],"as":["serie","pvalor"]}],"mark":"bar","encoding":{
  "x":{"field":"variavel","type":"nominal","sort":["DQO","DBO","STT","STF","STV","SDT","SDF","SDV","SST","SSF","SSV","S_SED","NH4","N_ORG","NKEJHDHAL","NO2","NO3","NT","PT","PO4","*P_DISS","P_PART","P_ORG_DISS","*COLI_TOTAL","*COLI_FECAL","DOC","*TURB","*COND","OD","OD_WINKLER","*T","*SECCHI","*pH","*Q"],"scale":{"paddingInner":0,"paddingOuter":0},"axis":{"orient":"top","labels":false,"ticks":true,"tickSize":-5,"domain":false,"title":null,"grid":true,"gridColor":"#c8c8c8","bandPosition":0.5}},
  "xOffset":{"field":"serie","type":"nominal","sort":["Concentração","Carga"],"scale":{"paddingInner":0,"paddingOuter":1.05}},
  "y":{"field":"pvalor","type":"quantitative","scale":{"domain":[0,1],"nice":false},"axis":{"orient":"left","title":"IG2A","values":[0.25,0.5,0.75,1],"labelExpr":"replace(format(datum.value, '.2f'), '.', ',')"}},
  "color":{"field":"serie","type":"nominal","scale":{"domain":["Concentração","Carga","α (0,05)"],"range":["#000000","#c0c0c0","#ff0000"]},"legend":null}}},
 {"transform":[{"filter":"datum.tipo == null && datum.variavel === 'DQO'"}],"mark":{"type":"rule","color":"#ff0000","strokeWidth":1.5},"encoding":{"y":{"datum":0.05,"type":"quantitative","axis":{"orient":"left","title":null,"labels":false,"ticks":false,"domain":false}}}},
 {"transform":[{"filter":"datum.tipo === 'elipse'"}],"mark":{"type":"rect","filled":false,"stroke":"#000","strokeWidth":1,"strokeDash":[5,3],"cornerRadius":400},"encoding":{
  "x":{"field":"x1","type":"quantitative","scale":{"domain":[0,34],"nice":false,"zero":false},"axis":null},"x2":{"field":"x2"},
  "y":{"field":"y1","type":"quantitative","axis":{"orient":"left","title":null,"labels":false,"ticks":false,"domain":false}},"y2":{"field":"y2"}}}
]},
{"width":1054,"height":93,"transform":[{"filter":"datum.painel === 'IG1'"}],"resolve":{"scale":{"x":"independent"},"axis":{"y":"independent"}},"layer":[
 {"transform":[{"filter":"datum.tipo == null"},{"fold":["Concentração","Carga"],"as":["serie","pvalor"]}],"mark":"bar","encoding":{
  "x":{"field":"variavel","type":"nominal","sort":["DQO","DBO","STT","STF","STV","SDT","SDF","SDV","SST","SSF","SSV","S_SED","NH4","N_ORG","NKEJHDHAL","NO2","NO3","NT","PT","PO4","*P_DISS","P_PART","P_ORG_DISS","*COLI_TOTAL","*COLI_FECAL","DOC","*TURB","*COND","OD","OD_WINKLER","*T","*SECCHI","*pH","*Q"],"scale":{"paddingInner":0,"paddingOuter":0},
   "axis":{"grid":true,"gridColor":"#c8c8c8","bandPosition":0.5,"labelAngle":-90,"labelFontSize":18,"labelPadding":4,"tickSize":5,
    "title":"Variável","titleFontWeight":"bold","titleFontSize":17,"titleAlign":"left","titleBaseline":"bottom","titleX":-52,"titleY":140}},
  "xOffset":{"field":"serie","type":"nominal","sort":["Concentração","Carga"],"scale":{"paddingInner":0,"paddingOuter":1.05}},
  "y":{"field":"pvalor","type":"quantitative","scale":{"domain":[0,1],"nice":false},"axis":{"orient":"left","title":"IG1","values":[0.25,0.5,0.75,1],"labelExpr":"replace(format(datum.value, '.2f'), '.', ',')"}},
  "color":{"field":"serie","type":"nominal","scale":{"domain":["Concentração","Carga","α (0,05)"],"range":["#000000","#c0c0c0","#ff0000"]},"legend":null}}},
 {"transform":[{"filter":"datum.tipo == null && datum.variavel === 'DQO'"}],"mark":{"type":"rule","color":"#ff0000","strokeWidth":1.5},"encoding":{"y":{"datum":0.05,"type":"quantitative",
   "axis":{"orient":"left","title":"p-valor","labels":false,"ticks":false,"domain":false,"titleFontSize":15,"titleFontWeight":"bold","titleAngle":-90,"titleAlign":"center","titleBaseline":"middle","titleX":-86,"titleY":162}}}},
 {"transform":[{"filter":"datum.tipo === 'elipse'"}],"mark":{"type":"rect","filled":false,"stroke":"#000","strokeWidth":1,"strokeDash":[5,3],"cornerRadius":400},"encoding":{
  "x":{"field":"x1","type":"quantitative","scale":{"domain":[0,34],"nice":false,"zero":false},
   "axis":{"orient":"top","values":[0.5,1.5,2.5,3.5,4.5,5.5,6.5,7.5,8.5,9.5,10.5,11.5,12.5,13.5,14.5,15.5,16.5,17.5,18.5,19.5,20.5,21.5,22.5,23.5,24.5,25.5,26.5,27.5,28.5,29.5,30.5,31.5,32.5,33.5],"labels":false,"domain":false,"ticks":true,"tickSize":-5,"grid":false,"title":null}},"x2":{"field":"x2"},
  "y":{"field":"y1","type":"quantitative","axis":{"orient":"left","title":null,"labels":false,"ticks":false,"domain":false}},"y2":{"field":"y2"}}},
 {"transform":[{"filter":"datum.tipo === 'caixa'"}],"mark":{"type":"rect","filled":false,"stroke":"#000","strokeWidth":1,"strokeDash":[6,3]},"encoding":{
  "x":{"field":"x1","type":"quantitative","scale":{"domain":[0,34],"nice":false,"zero":false},"axis":null},"x2":{"field":"x2"},
  "y":{"field":"y1","type":"quantitative","axis":{"orient":"left","title":null,"labels":false,"ticks":false,"domain":false}},"y2":{"field":"y2"}}}
]}
],
"config": {
  "font": "Liberation Sans",
  "view": {"stroke": "#000", "strokeWidth": 1.5},
  "axis": {"labelColor": "#000", "tickColor": "#000", "domainColor": "#000", "titleColor": "#000", "domainWidth": 1.5, "labelFont": "Liberation Sans", "titleFont": "Liberation Sans"},
  "axisY": {"grid": false, "tickSize": 4, "labelPadding": 2, "labelFontSize": 15, "titleFontSize": 22, "titleFontWeight": "normal", "titlePadding": 39, "labelOverlap": false, "labelFlush": false}
}
}
